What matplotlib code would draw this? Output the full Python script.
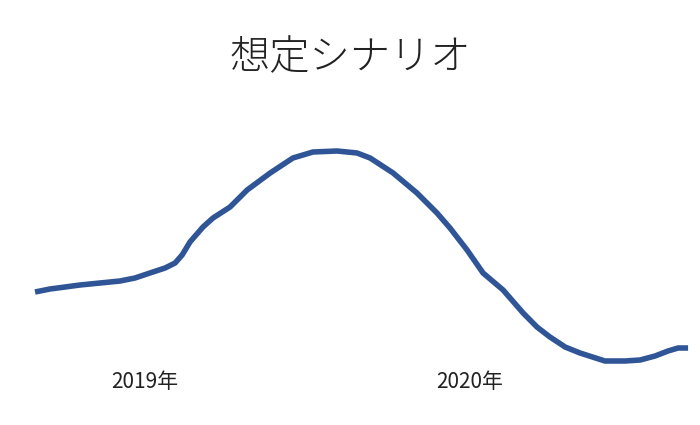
import matplotlib.pyplot as plt

plt.rcParams['font.family'] = ['Noto Sans CJK JP', 'DejaVu Sans']

# months from start of 2019, scenario value (arbitrary units)
months = [1.94, 2.49, 3.05, 3.60, 4.34, 5.08, 5.63, 6.18, 6.74, 7.11, 7.37, 7.66,
          8.14, 8.51, 9.14, 9.77, 10.62, 11.46, 12.20, 13.09, 13.83, 14.31, 15.16,
          16.04, 16.78, 17.26, 17.89, 18.48, 19.22, 19.96, 20.47, 20.95, 21.51,
          22.06, 22.98, 23.72, 24.28, 24.83, 25.31, 25.68, 26.05]
values = [43.2, 44.4, 45.2, 46.0, 46.8, 47.6, 48.8, 50.8, 52.8, 54.8, 58.0, 63.2,
          69.2, 72.8, 77.2, 84.0, 90.8, 96.8, 99.2, 99.6, 98.8, 96.8, 90.8,
          82.8, 74.8, 68.8, 60.0, 50.8, 44.0, 34.8, 29.2, 25.2, 21.2,
          18.8, 15.6, 15.6, 16.0, 17.6, 19.6, 20.8, 20.8]

year_labels = ['2019年', '2020年']
year_pos = [6, 18]

fig = plt.figure(figsize=(7, 4.25), dpi=100)
ax = fig.add_axes([0, 0, 1, 1])
ax.plot(months, values, color='#2F5597', linewidth=4, solid_capstyle='butt')

for pos, lab in zip(year_pos, year_labels):
    ax.text(pos, 7.0, lab, ha='center', va='center', fontsize=15, color='#222222')

ax.text(0.5, 0.862, '想定シナリオ', transform=ax.transAxes, ha='center', va='center',
        fontsize=29, fontweight='light', color='#222222')

ax.set_xlim(0.646, 26.49)
ax.set_ylim(-10, 160)
ax.axis('off')

fig.savefig('out.png', dpi=100)
